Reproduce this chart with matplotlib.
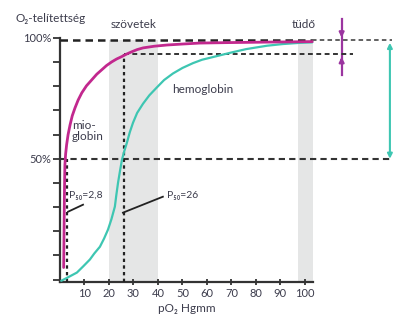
import numpy as np
import matplotlib
matplotlib.use("Agg")
import matplotlib.pyplot as plt

# pO2 (Hgmm) and O2 saturation (%)
mio_po2 = [1.5, 1.6, 1.7, 1.8, 1.9, 2.0, 2.3, 2.7, 3.3, 4.1, 5, 6.1, 7.4, 8.9, 10.8,
           12.9, 15, 17, 19, 21.1, 23.1, 25.2, 27.3, 29.3, 31.5, 33.9, 38.5, 43.7,
           50, 57, 69, 85, 103]
mio_sat = [5, 15, 25, 35, 42, 47.5, 52, 55.8, 60, 64, 67.8, 71, 74.3, 77.3, 80.2,
           82.6, 85, 86.8, 88.6, 90.1, 91.3, 92.3, 93.4, 94.3, 95.2, 95.9, 96.6, 97.1,
           97.5, 97.9, 98.1, 98.3, 98.5]

hb_po2 = [0.5, 3, 6.9, 9.5, 12.2, 14, 16.3, 18, 19.6, 21, 22.4, 23, 23.7, 24.5, 25.3,
          26.2, 27.3, 28.5, 29.8, 31.5, 33.9, 36.5, 39.6, 42.5, 46.1, 50, 54.3, 58,
          62.4, 66, 70, 76, 84.5, 91, 98, 103]
hb_sat = [-0.5, 0.8, 2.9, 5.5, 8.3, 10.8, 13.6, 17, 20.7, 25, 30.2, 35, 40.1, 45, 49.6,
          53, 56.6, 61, 64.9, 69, 72.8, 76.3, 79.6, 82.6, 85.3, 87.6, 89.6, 91,
          92.1, 93, 94, 95.4, 96.8, 97.5, 98, 98.2]

x_ticks = [10, 20, 30, 40, 50, 60, 70, 80, 90, 100]
y_ticks = [0, 10, 20, 30, 40, 50, 60, 70, 80, 90, 100]
y_labels = {50: "50%", 100: "100%"}

p50_mio = 2.8
p50_hb = 26
sat_top = 99
sat_tissue_mio = 93.3
sat_half = 50

MAGENTA = "#c2288e"
TEAL = "#3ec6b2"
PURPLE = "#9b35a0"
TXT = "#3c3c4c"
BAND = "#e5e6e6"
FS = 8.5

plt.rcParams["font.family"] = ["Lato", "DejaVu Sans"]

fig = plt.figure(figsize=(3.93, 3.2), dpi=100)
ax = fig.add_axes([60 / 393, 1 - 282 / 320, 253 / 393, 244 / 320])
ax.set_xlim(0, 103.3)
ax.set_ylim(-1, 100)

# tissue and lung bands
ax.axvspan(20, 40, ymin=0, ymax=(sat_top + 1) / 101, color=BAND, lw=0, zorder=0)
ax.axvspan(97, 103.3, ymin=0, ymax=(sat_top + 1) / 101, color=BAND, lw=0, zorder=0)

# reference lines
ax.plot([0, 103], [sat_top, sat_top], color="#222222", lw=1.8, dashes=(3, 2), clip_on=False, zorder=3)
ax.plot([103, 135.5], [sat_top, sat_top], color="#555555", lw=1.3, dashes=(2.5, 1.8), clip_on=False, zorder=3)
ax.plot([p50_hb, 119.6], [sat_tissue_mio, sat_tissue_mio], color="#333333", lw=1.4, dashes=(2.5, 1.8), clip_on=False, zorder=3)
ax.plot([0, 135.5], [sat_half, sat_half], color="#333333", lw=1.5, dashes=(3, 2), clip_on=False, zorder=3)
ax.plot([p50_hb, p50_hb], [-1, sat_tissue_mio], color="#222222", lw=1.6, dashes=(1.5, 1.5), zorder=3)
ax.plot([p50_mio, p50_mio], [-1, sat_half], color="#222222", lw=1.6, dashes=(1.5, 1.5), zorder=3)

# curves
ax.plot(hb_po2, hb_sat, color=TEAL, lw=1.6, solid_capstyle="round", solid_joinstyle="round",
        zorder=4, clip_on=False)
ax.plot(mio_po2, mio_sat, color=MAGENTA, lw=2.0, solid_capstyle="round", solid_joinstyle="round",
        zorder=5, clip_on=False)

# difference markers on the right
ax.plot([115, 115], [108, 84.5], color=PURPLE, lw=1.6, clip_on=False)
ax.annotate("", xy=(115, sat_top), xytext=(115, 104), xycoords="data",
            arrowprops=dict(arrowstyle="-|>", color=PURPLE, lw=1.6, mutation_scale=7),
            annotation_clip=False)
ax.annotate("", xy=(115, sat_tissue_mio), xytext=(115, 89), xycoords="data",
            arrowprops=dict(arrowstyle="-|>", color=PURPLE, lw=1.6, mutation_scale=7),
            annotation_clip=False)
ax.annotate("", xy=(134.7, sat_top - 1), xytext=(134.7, sat_half), xycoords="data",
            arrowprops=dict(arrowstyle="<|-|>", color=TEAL, lw=1.5, mutation_scale=7,
                            shrinkA=0, shrinkB=0),
            annotation_clip=False)

# axes styling
for s in ["top", "right"]:
    ax.spines[s].set_visible(False)
for s in ["left", "bottom"]:
    ax.spines[s].set_color("#333333")
    ax.spines[s].set_linewidth(1.6)
ax.set_xticks(x_ticks)
ax.set_xticklabels([str(v) for v in x_ticks])
ax.set_yticks(y_ticks)
ax.set_yticklabels([y_labels.get(v, "") for v in y_ticks])
ax.tick_params(axis="y", direction="out", length=5, width=1.3, color="#333333",
               labelsize=8, labelcolor=TXT, pad=1)
ax.tick_params(axis="x", direction="inout", length=5, width=1.3, color="#333333",
               labelsize=8, labelcolor=TXT, pad=2)
ax.set_xlabel("pO₂ Hgmm", fontsize=FS, color=TXT, labelpad=3)

# labels
fig.text(15 / 393, 1 - 18 / 320, "O₂-telítettség", fontsize=FS, color=TXT, va="center", ha="left")
ax.text(30, 105.4, "szövetek", fontsize=FS, color=TXT, ha="center", va="center", clip_on=False)
ax.text(99.6, 105.4, "tüdő", fontsize=FS, color=TXT, ha="center", va="center", clip_on=False)
ax.text(45.7, 78.5, "hemoglobin", fontsize=FS, color=TXT, ha="left", va="center")
ax.text(4.9, 61.6, "mio-\nglobin", fontsize=FS, color=TXT, ha="left", va="center", linespacing=1.0)
ax.text(3.6, 35, "P₅₀=2,8", fontsize=7.5, color=TXT, ha="left", va="center")
ax.text(43.7, 35, "P₅₀=26", fontsize=7.5, color=TXT, ha="left", va="center")
ax.plot([3.3, 9.4], [28.1, 31], color="#222222", lw=1.3)
ax.plot([25.7, 42], [27.7, 34.3], color="#222222", lw=1.3)

fig.savefig("out.png", dpi=100)
